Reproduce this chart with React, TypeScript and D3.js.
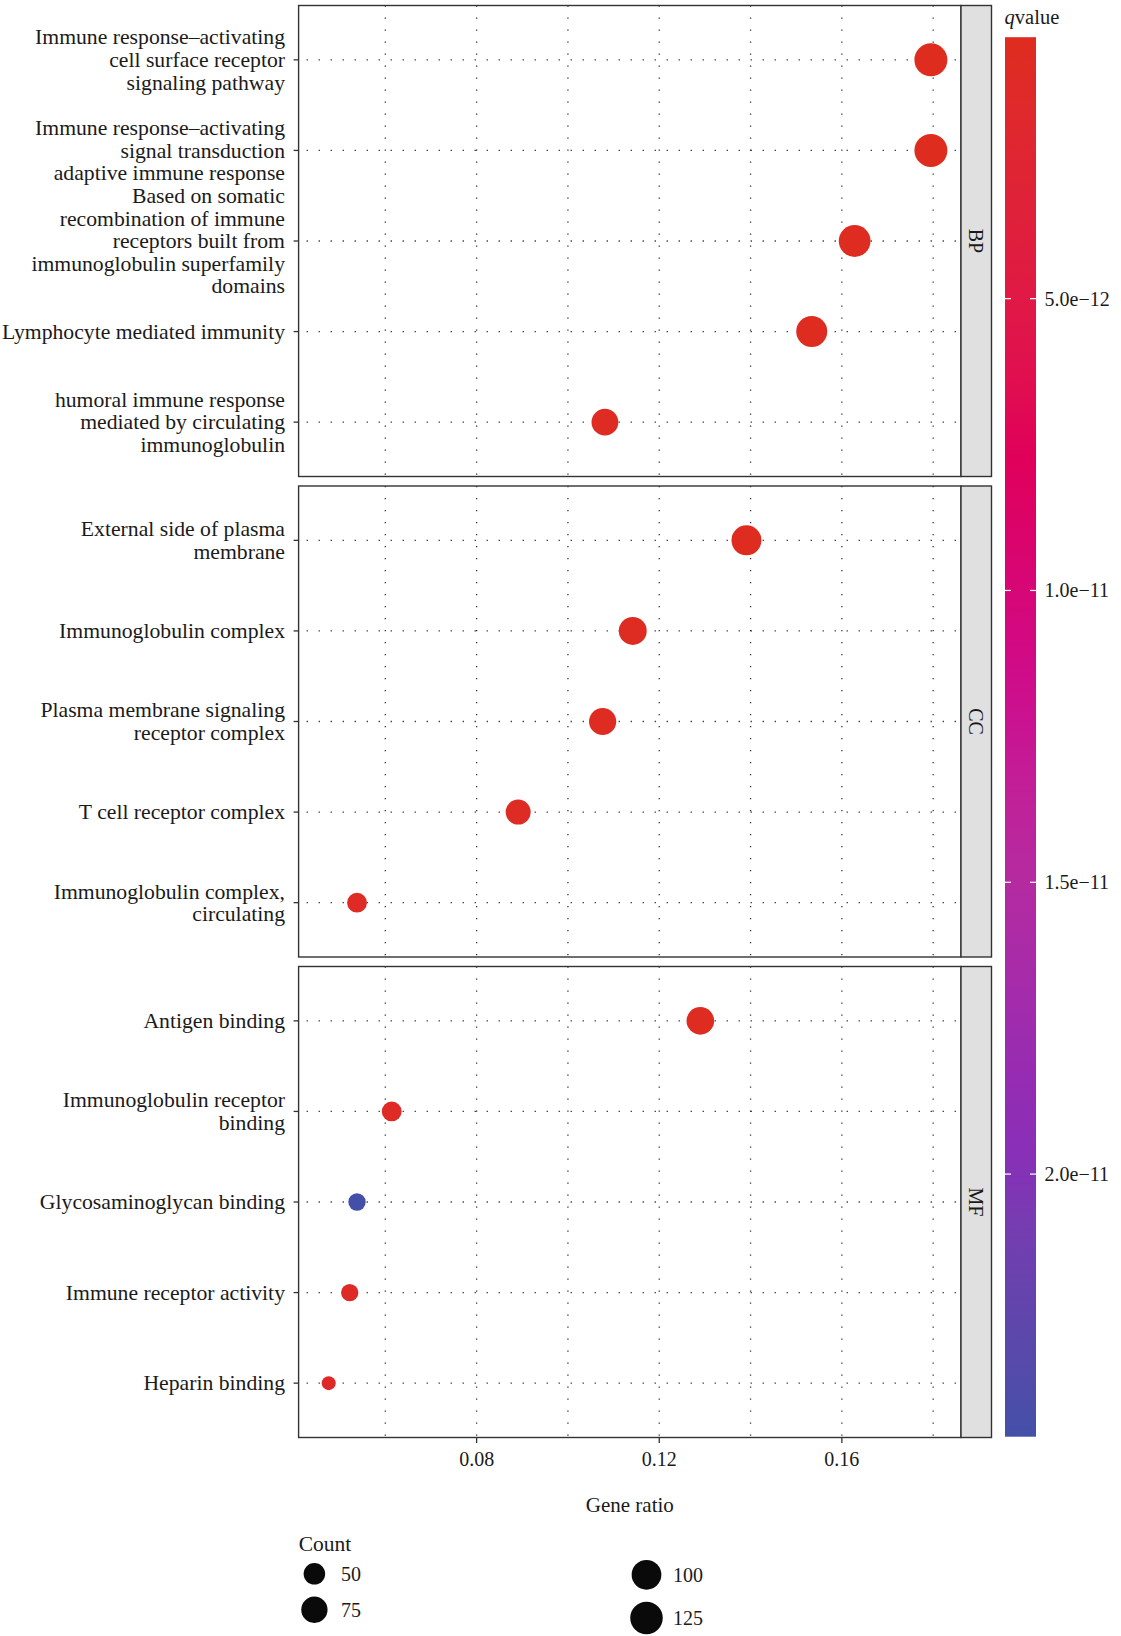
import * as d3 from "d3";

// GO enrichment dot plot, faceted by ontology
const categories = ["BP", "CC", "MF"];

const termLabels: string[][] = [
  ["Immune response–activating", "cell surface receptor", "signaling pathway"],
  ["Immune response–activating", "signal transduction"],
  [
    "adaptive immune response",
    "Based on somatic",
    "recombination of immune",
    "receptors built from",
    "immunoglobulin superfamily",
    "domains",
  ],
  ["Lymphocyte mediated immunity"],
  ["humoral immune response", "mediated by circulating", "immunoglobulin"],
  ["External side of plasma", "membrane"],
  ["Immunoglobulin complex"],
  ["Plasma membrane signaling", "receptor complex"],
  ["T cell receptor complex"],
  ["Immunoglobulin complex,", "circulating"],
  ["Antigen binding"],
  ["Immunoglobulin receptor", "binding"],
  ["Glycosaminoglycan binding"],
  ["Immune receptor activity"],
  ["Heparin binding"],
];
// which label line sits on the tick
const labelAnchor = [1, 1, 3, 0, 1, 0.5, 0, 0.5, 0, 0.5, 0, 0.5, 0, 0, 0];
const termCategory = ["BP", "BP", "BP", "BP", "BP", "CC", "CC", "CC", "CC", "CC", "MF", "MF", "MF", "MF", "MF"];
const geneRatio = [0.1795, 0.1795, 0.1628, 0.1534, 0.1081, 0.1391, 0.1142, 0.1076, 0.0891, 0.0538, 0.129, 0.0614, 0.0538, 0.0522, 0.0476];
const geneCount = [130, 130, 118, 111, 78, 102, 86, 81, 67, 44, 84, 44, 38, 38, 35];
const qValue = [5.2e-13, 5.4e-13, 6.0e-13, 7.0e-13, 9.0e-13, 6.5e-13, 8.0e-13, 8.5e-13, 1.0e-12, 1.2e-12, 7.5e-13, 1.1e-12, 2.45e-11, 1.3e-12, 1.6e-12];

const xMajorTicks = [0.08, 0.12, 0.16];
const xGridTicks = [0.06, 0.08, 0.1, 0.12, 0.14, 0.16, 0.18];
const sizeBreaks = [50, 75, 100, 125];
const qBreaks = [5e-12, 1e-11, 1.5e-11, 2e-11];
const qBreakLabels = ["5.0e−12", "1.0e−11", "1.5e−11", "2.0e−11"];

const colorStopPos = [0, 0.3, 0.48, 0.6, 0.79, 0.9, 1];
const colorStopHex = ["#DE2D1F", "#E0005A", "#CC0E90", "#B52AA0", "#8A2DB8", "#6444AC", "#4450A8"];

const W = 1121;
const H = 1636;
const panelLeft = 298.6;
const panelRight = 961;
const stripW = 30.5;
const panelTop0 = 5.5;
const panelH = 471;
const panelGap = 9.5;
const lineH = 22.6;
const font = "'Liberation Serif', 'DejaVu Serif', serif";
const ink = "#1A1A1A";

export default function App() {
  const [rMin, rMax] = d3.extent(geneRatio) as [number, number];
  const pad = (rMax - rMin) * 0.05;
  const x = d3.scaleLinear().domain([rMin - pad, rMax + pad]).range([panelLeft, panelRight]);

  const countNorm = d3.scaleLinear().domain(d3.extent(geneCount) as [number, number]).range([0, 1]);
  const diam = d3.scaleLinear().domain([0, 1]).range([14, 33]);
  const size = (c: number) => diam(Math.sqrt(Math.max(0, countNorm(c))));

  const [qMin, qMax] = d3.extent(qValue) as [number, number];
  const qNorm = d3.scaleLinear().domain([qMin, qMax]).range([0, 1]);
  const ramp = d3
    .scaleLinear<string>()
    .domain(colorStopPos)
    .range(colorStopHex)
    .interpolate(d3.interpolateLab);
  const color = (q: number) => ramp(qNorm(q));

  const barX = 1005;
  const barW = 31;
  const barY = d3.scaleLinear().domain([qMin, qMax]).range([37.2, 1436.7]);
  const gradStops = d3.range(0, 1.0001, 0.05);

  const panels = categories.map((cat, pi) => {
    const top = panelTop0 + pi * (panelH + panelGap);
    const idx = termCategory.map((c, i) => (c === cat ? i : -1)).filter((i) => i >= 0);
    const y = d3
      .scalePoint<number>()
      .domain(idx)
      .range([top, top + panelH])
      .padding(0.6);
    return { cat, top, idx, y };
  });
  const lastBottom = panelTop0 + 3 * panelH + 2 * panelGap;

  // size legend: two columns, two keys each
  const legendY0 = [1557, 1554];
  const legendPad = 12;
  const legendCols = [sizeBreaks.slice(0, 2), sizeBreaks.slice(2)];
  const legendColX = [314.4, 646.5];

  return (
    <div style={{ position: "absolute", left: 0, top: 0 }}>
      <svg width={W} height={H} style={{ display: "block", background: "#fff" }}>
        <defs>
          <linearGradient id="qgrad" x1="0" y1="0" x2="0" y2="1">
            {gradStops.map((t) => (
              <stop key={t} offset={t} stopColor={ramp(t)} />
            ))}
          </linearGradient>
        </defs>

        {panels.map((p) => (
          <g key={p.cat}>
            <rect x={panelLeft} y={p.top} width={panelRight - panelLeft} height={panelH} fill="#fff" />
            {xGridTicks.map((t) => (
              <line
                key={t}
                x1={x(t)}
                x2={x(t)}
                y1={p.top}
                y2={p.top + panelH}
                stroke="#333"
                strokeWidth={1.3}
                strokeDasharray="1.3 10.7"
              />
            ))}
            {p.idx.map((i) => (
              <line
                key={i}
                x1={panelLeft}
                x2={panelRight}
                y1={p.y(i)}
                y2={p.y(i)}
                stroke="#333"
                strokeWidth={1.3}
                strokeDasharray="1.3 10.7"
                strokeDashoffset={-8}
              />
            ))}
            {p.idx.map((i) => (
              <circle key={i} cx={x(geneRatio[i])} cy={p.y(i)} r={size(geneCount[i]) / 2} fill={color(qValue[i])} />
            ))}
            <rect
              x={panelLeft}
              y={p.top}
              width={panelRight - panelLeft}
              height={panelH}
              fill="none"
              stroke="#333"
              strokeWidth={1.4}
            />
            <rect x={panelRight} y={p.top} width={stripW} height={panelH} fill="#E0E0E0" stroke="#333" strokeWidth={1.4} />
            <text
              transform={`translate(${panelRight + stripW / 2},${p.top + panelH / 2}) rotate(90)`}
              textAnchor="middle"
              dy="0.35em"
              fontFamily={font}
              fontSize={20}
              fill={ink}
            >
              {p.cat}
            </text>
            {p.idx.map((i) => (
              <g key={i}>
                <line x1={panelLeft - 5} x2={panelLeft} y1={p.y(i)} y2={p.y(i)} stroke="#333" strokeWidth={1.3} />
                <text textAnchor="end" fontFamily={font} fontSize={21.7} fill={ink}>
                  {termLabels[i].map((ln, j) => (
                    <tspan key={j} x={285} y={(p.y(i) as number) + (j - labelAnchor[i]) * lineH} dy="0.33em">
                      {ln}
                    </tspan>
                  ))}
                </text>
              </g>
            ))}
          </g>
        ))}

        {xMajorTicks.map((t) => (
          <g key={t}>
            <line x1={x(t)} x2={x(t)} y1={lastBottom} y2={lastBottom + 5.5} stroke="#333" strokeWidth={1.3} />
            <text x={x(t)} y={1459} dy="0.35em" textAnchor="middle" fontFamily={font} fontSize={20} fill={ink}>
              {t.toFixed(2)}
            </text>
          </g>
        ))}
        <text
          x={(panelLeft + panelRight) / 2}
          y={1505}
          dy="0.35em"
          textAnchor="middle"
          fontFamily={font}
          fontSize={21}
          fill={ink}
        >
          Gene ratio
        </text>

        <text x={298.7} y={1543.5} dy="0.35em" fontFamily={font} fontSize={21.5} fill={ink}>
          Count
        </text>
        {legendCols.map((col, ci) => {
          let yy = legendY0[ci];
          return col.map((v) => {
            const d = size(v);
            const cy = yy + (d + legendPad) / 2;
            yy += d + legendPad;
            return (
              <g key={v}>
                <circle cx={legendColX[ci]} cy={cy} r={d / 2} fill="#0A0A0A" />
                <text x={legendColX[ci] + 26.5} y={cy} dy="0.35em" fontFamily={font} fontSize={20} fill={ink}>
                  {v}
                </text>
              </g>
            );
          });
        })}

        <text x={1004.6} y={16.7} dy="0.35em" fontFamily={font} fontSize={20.5} fill={ink}>
          <tspan fontStyle="italic">q</tspan>value
        </text>
        <rect x={barX} y={barY(qMin)} width={barW} height={barY(qMax) - barY(qMin)} fill="url(#qgrad)" />
        {qBreaks.map((b, k) => (
          <g key={b}>
            <line x1={barX} x2={barX + 6} y1={barY(b)} y2={barY(b)} stroke="#fff" strokeWidth={1.2} />
            <line x1={barX + barW - 6} x2={barX + barW} y1={barY(b)} y2={barY(b)} stroke="#fff" strokeWidth={1.2} />
            <text x={1044.6} y={barY(b)} dy="0.35em" fontFamily={font} fontSize={20} fill={ink}>
              {qBreakLabels[k]}
            </text>
          </g>
        ))}
      </svg>
    </div>
  );
}
